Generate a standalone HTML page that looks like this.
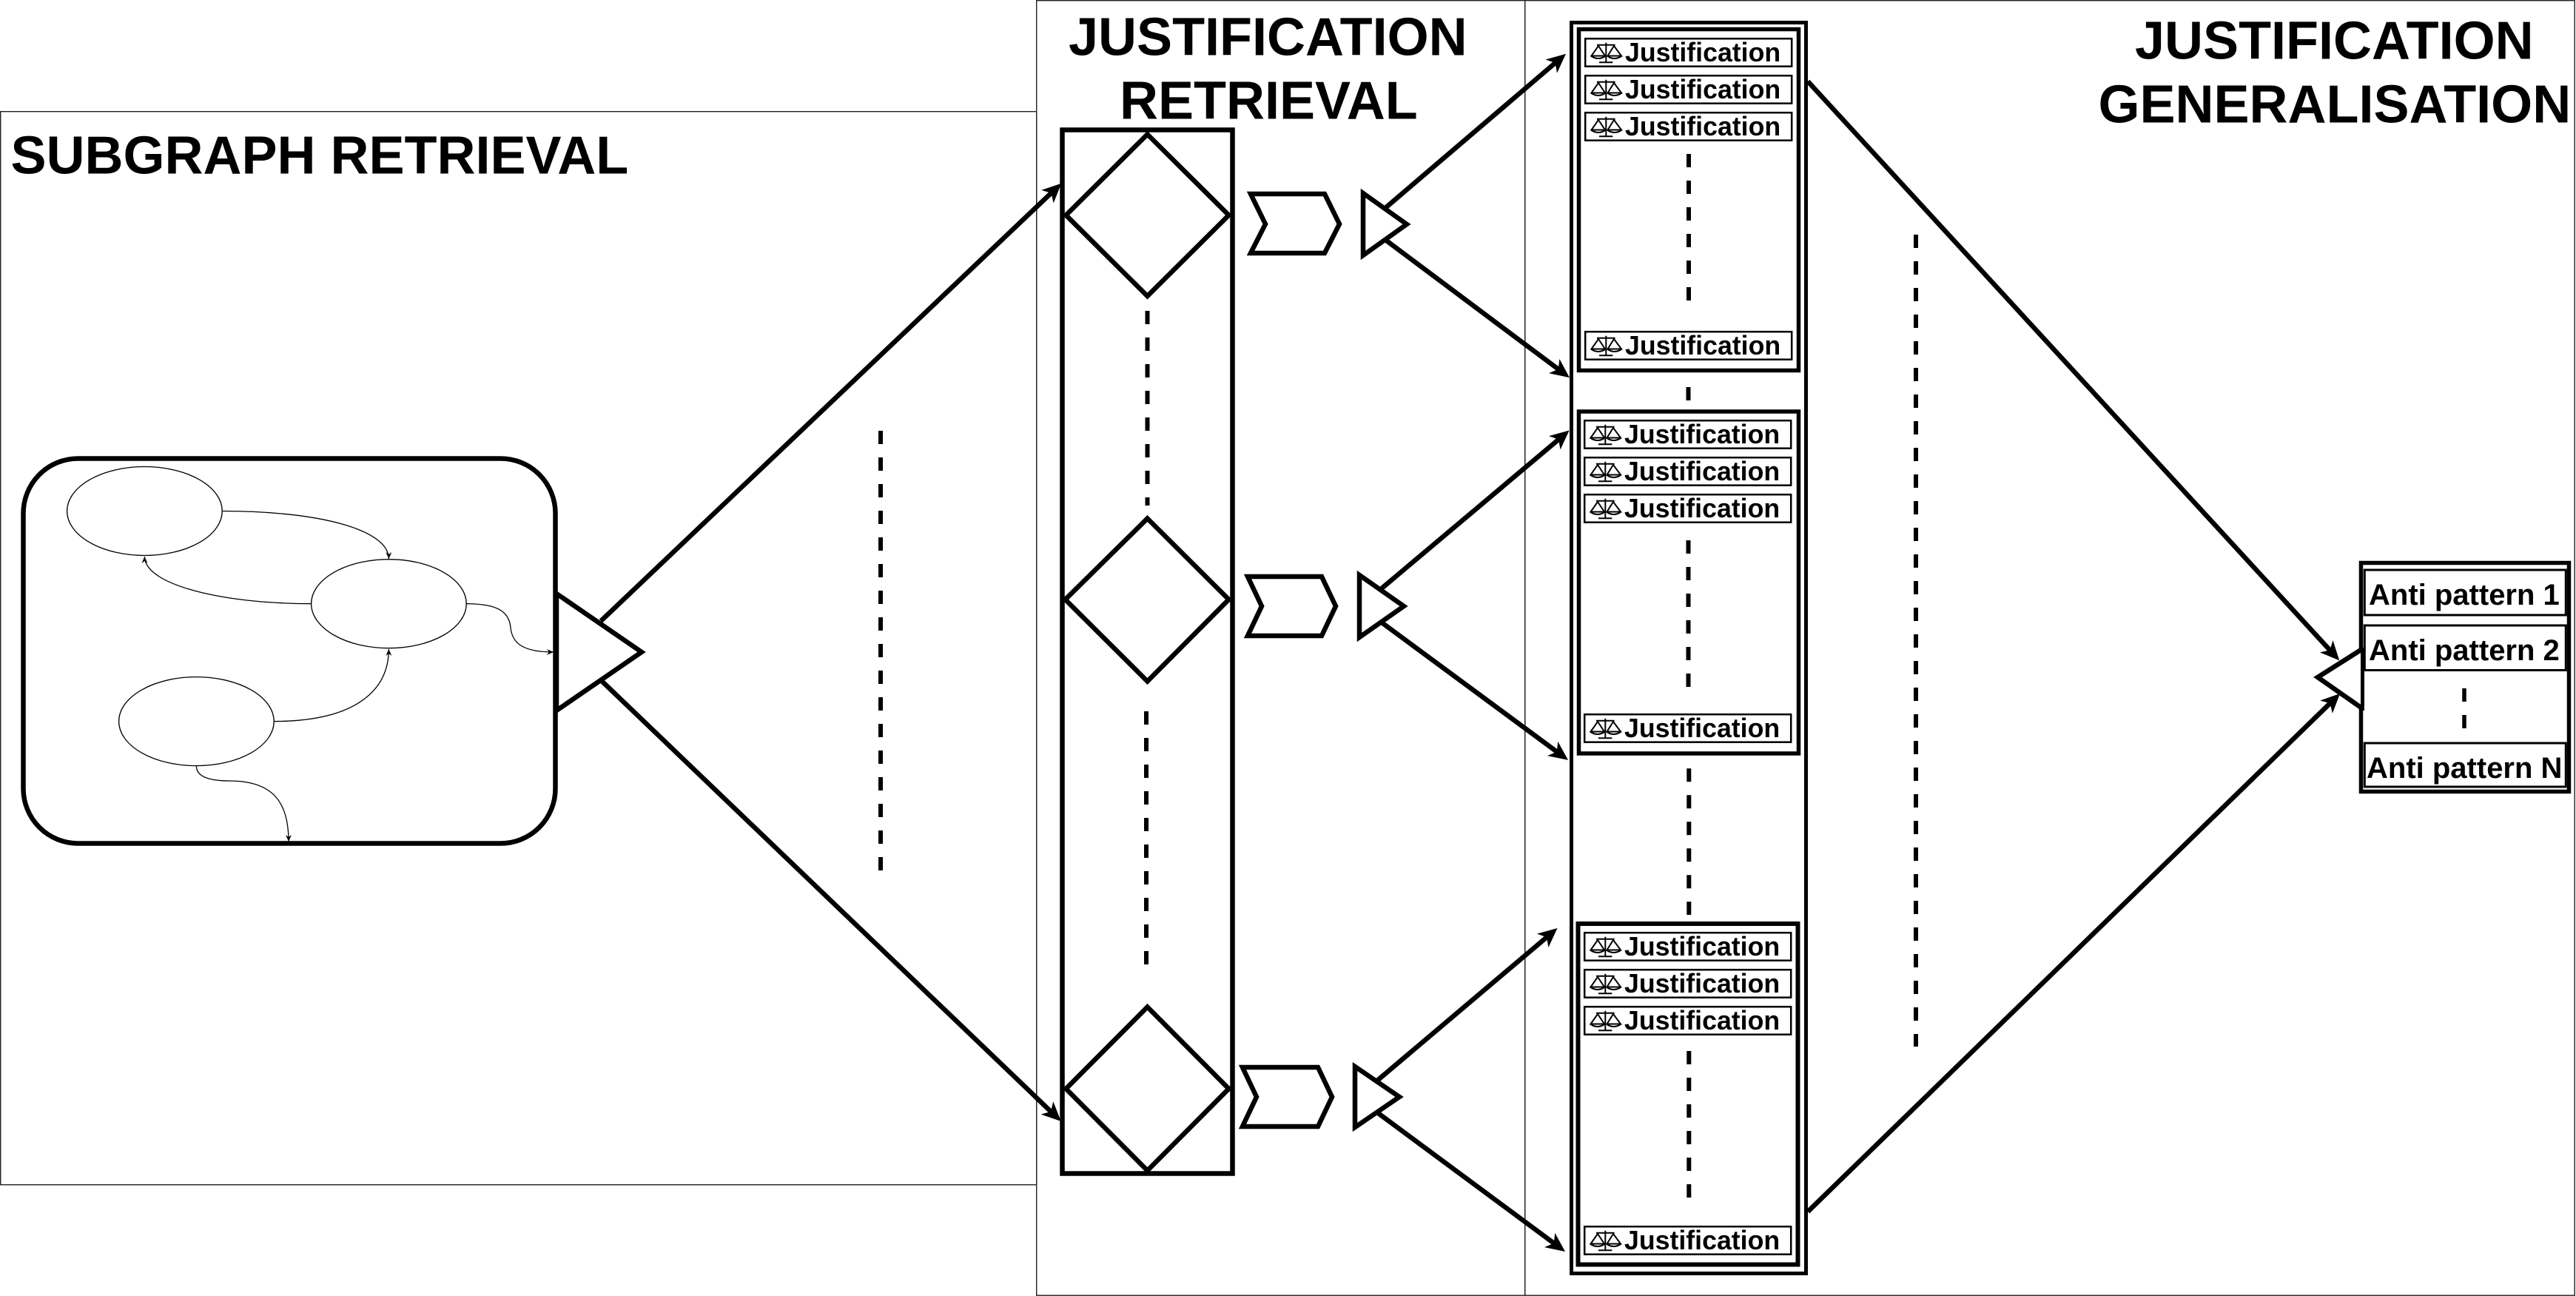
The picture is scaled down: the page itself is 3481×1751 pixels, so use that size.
<!DOCTYPE html>
<html><head><meta charset="utf-8"><style>
html,body{margin:0;padding:0;background:#fff;width:3481px;height:1751px;overflow:hidden}
svg{display:block;font-family:"Liberation Sans",Arial,sans-serif;font-weight:bold}
.t{font-size:72px}.j{font-size:35.7px}.a{font-size:40px}
.s{fill:#fff;stroke:#000;stroke-width:6.5;stroke-linejoin:miter}
.l{stroke:#000;stroke-width:6.5;fill:none}
.d{stroke:#000;stroke-width:6;stroke-dasharray:18 18;fill:none}
.g{stroke:#000;stroke-width:1.3;fill:none}
.i{fill:#fff;stroke:#000;stroke-width:2.5}
.c{fill:none;stroke:#000;stroke-width:2}
</style></head><body>
<svg width="3481" height="1751" viewBox="0 0 3481 1751" xmlns="http://www.w3.org/2000/svg">
<defs>
<marker id="m" markerUnits="userSpaceOnUse" viewBox="-18 -13 30 26" refX="0" refY="0" markerWidth="30" markerHeight="26" orient="auto"><path d="M10,0L-16,-12L-9,0L-16,12Z" fill="#000"/></marker>
<marker id="n" markerUnits="userSpaceOnUse" viewBox="-10 -5 11 10" refX="0" refY="0" markerWidth="11" markerHeight="10" orient="auto"><path d="M0,0L-9,-4L-6,0L-9,4Z" fill="#000"/></marker>
</defs>
<rect width="3481" height="1751" fill="#fff"/>

<!-- panels -->
<g fill="none" stroke="#222" stroke-width="1.4">
<rect x="0.7" y="150.7" width="1400" height="1450"/>
<rect x="1400.7" y="0.7" width="660" height="1749.5"/>
<rect x="2060.7" y="0.7" width="1418.5" height="1749.5"/>
</g>

<text class="t" x="14.5" y="234.5">SUBGRAPH RETRIEVAL</text>
<text class="t" x="1444" y="74.5">JUSTIFICATION</text>
<text class="t" x="1513" y="160.5">RETRIEVAL</text>
<text class="t" x="2885" y="79.5">JUSTIFICATION</text>
<text class="t" x="2835.5" y="165.5">GENERALISATION</text>

<!-- subgraph -->
<path class="s" d="M752,802L867,881L752,960Z"/>
<rect class="s" x="31.5" y="619.5" width="719" height="520" rx="74" ry="74"/>
<g class="g" fill="#fff">
<ellipse cx="195.4" cy="690.5" rx="104.8" ry="60"/>
<ellipse cx="525.4" cy="815.7" rx="104.8" ry="60"/>
<ellipse cx="265.4" cy="974.6" rx="104.8" ry="60"/>
</g>
<g class="g">
<path d="M300,690.5C430,690.5 525,715 525.4,755" marker-end="url(#n)"/>
<path d="M421,815.7C300,815.7 195.4,790 195.4,752" marker-end="url(#n)"/>
<path d="M630,815.7C670,815.7 688,825 690,848C692,868 705,881 748,881" marker-end="url(#n)"/>
<path d="M370,974.6C470,974.6 525,940 525.4,877" marker-end="url(#n)"/>
<path d="M265.4,1035C265.4,1050 285,1055 310,1055C370,1055 390,1085 390,1137" marker-end="url(#n)"/>
</g>

<!-- main connectors -->
<g class="l">
<line x1="812" y1="839" x2="1427" y2="254.6" marker-end="url(#m)"/>
<line x1="812" y1="919" x2="1426.5" y2="1508" marker-end="url(#m)"/>
<line x1="1872" y1="281" x2="2108.4" y2="79.2" marker-end="url(#m)"/>
<line x1="1872" y1="324" x2="2113" y2="504.2" marker-end="url(#m)"/>
<line x1="1867" y1="795" x2="2113" y2="588" marker-end="url(#m)"/>
<line x1="1867" y1="841" x2="2111" y2="1021" marker-end="url(#m)"/>
<line x1="1861" y1="1460" x2="2096.9" y2="1260.5" marker-end="url(#m)"/>
<line x1="1861" y1="1503" x2="2107" y2="1685" marker-end="url(#m)"/>
<line x1="2443" y1="110" x2="3154.5" y2="885" marker-end="url(#m)"/>
<line x1="2443" y1="1637" x2="3155" y2="944" marker-end="url(#m)"/>
</g>

<line class="d" x1="1190" y1="582" x2="1190" y2="1177"/>
<line class="d" x1="2589" y1="317" x2="2589" y2="1414"/>

<!-- retrieval column -->
<rect class="s" x="1435.5" y="175.5" width="230" height="1410"/>
<path class="s" d="M1550.5,181.5L1660.5,290.7L1550.5,400L1440.5,290.7Z"/>
<path class="s" d="M1550.5,700.5L1660.5,810L1550.5,920.5L1439.5,810Z"/>
<path class="s" d="M1550.5,1360.5L1660.5,1471L1550.5,1581.5L1440.5,1471Z"/>
<line class="d" x1="1550.5" y1="420" x2="1550.5" y2="683"/>
<line class="d" x1="1549" y1="961" x2="1549" y2="1303"/>

<!-- chevrons and triangles -->
<path class="s" d="M1690,262H1790L1810,302.7L1790,342H1690L1710,302.7Z"/>
<path class="s" d="M1842,261V345L1901,303Z"/>
<path class="s" d="M1686,779H1786L1805,819L1786,859H1686L1705,819Z"/>
<path class="s" d="M1837,777V861L1897,819Z"/>
<path class="s" d="M1679,1442H1781L1800,1482L1781,1522H1679L1698,1482Z"/>
<path class="s" d="M1831,1441V1523L1891,1482Z"/>

<!-- justification stacks -->
<rect class="s" style="stroke-width:5" x="2123.5" y="30.5" width="317" height="1690"/>
<rect class="s" style="stroke-width:5.5" x="2133.5" y="39.5" width="297" height="461"/>
<rect class="s" style="stroke-width:5.5" x="2133.5" y="556" width="297" height="462"/>
<rect class="s" style="stroke-width:6" x="2132.5" y="1248" width="297" height="460.5"/>

<line class="d" x1="2282" y1="208" x2="2282" y2="410"/>
<line class="d" x1="2281.5" y1="523" x2="2281.5" y2="542"/>
<line class="d" x1="2281.5" y1="730" x2="2281.5" y2="930"/>
<line class="d" x1="2282.3" y1="1038.3" x2="2282.3" y2="1236"/>
<line class="d" x1="2282.3" y1="1420" x2="2282.3" y2="1618"/>

<g transform="translate(2141,51)"><rect class="i" x="1.2" y="1.2" width="279" height="37.5"/><path class="c" d="M29.3 6.7V33.3M20 33.3H38.3M17 9.7H41.6M19 11L9.5 24.5H28ZM40 11L31.5 24.5H50ZM9.5 25Q19 31 28 25M31.5 25Q40.5 31 50 25"/><text class="j" x="55" y="32">Justification</text></g>
<g transform="translate(2141,101)"><rect class="i" x="1.2" y="1.2" width="279" height="37.5"/><path class="c" d="M29.3 6.7V33.3M20 33.3H38.3M17 9.7H41.6M19 11L9.5 24.5H28ZM40 11L31.5 24.5H50ZM9.5 25Q19 31 28 25M31.5 25Q40.5 31 50 25"/><text class="j" x="55" y="32">Justification</text></g>
<g transform="translate(2141,151)"><rect class="i" x="1.2" y="1.2" width="279" height="37.5"/><path class="c" d="M29.3 6.7V33.3M20 33.3H38.3M17 9.7H41.6M19 11L9.5 24.5H28ZM40 11L31.5 24.5H50ZM9.5 25Q19 31 28 25M31.5 25Q40.5 31 50 25"/><text class="j" x="55" y="32">Justification</text></g>
<g transform="translate(2141,447)"><rect class="i" x="1.2" y="1.2" width="279" height="37.5"/><path class="c" d="M29.3 6.7V33.3M20 33.3H38.3M17 9.7H41.6M19 11L9.5 24.5H28ZM40 11L31.5 24.5H50ZM9.5 25Q19 31 28 25M31.5 25Q40.5 31 50 25"/><text class="j" x="55" y="32">Justification</text></g>

<g transform="translate(2140,567)"><rect class="i" x="1.2" y="1.2" width="279" height="37.5"/><path class="c" d="M29.3 6.7V33.3M20 33.3H38.3M17 9.7H41.6M19 11L9.5 24.5H28ZM40 11L31.5 24.5H50ZM9.5 25Q19 31 28 25M31.5 25Q40.5 31 50 25"/><text class="j" x="55" y="32">Justification</text></g>
<g transform="translate(2140,617)"><rect class="i" x="1.2" y="1.2" width="279" height="37.5"/><path class="c" d="M29.3 6.7V33.3M20 33.3H38.3M17 9.7H41.6M19 11L9.5 24.5H28ZM40 11L31.5 24.5H50ZM9.5 25Q19 31 28 25M31.5 25Q40.5 31 50 25"/><text class="j" x="55" y="32">Justification</text></g>
<g transform="translate(2140,667)"><rect class="i" x="1.2" y="1.2" width="279" height="37.5"/><path class="c" d="M29.3 6.7V33.3M20 33.3H38.3M17 9.7H41.6M19 11L9.5 24.5H28ZM40 11L31.5 24.5H50ZM9.5 25Q19 31 28 25M31.5 25Q40.5 31 50 25"/><text class="j" x="55" y="32">Justification</text></g>
<g transform="translate(2140,964)"><rect class="i" x="1.2" y="1.2" width="279" height="37.5"/><path class="c" d="M29.3 6.7V33.3M20 33.3H38.3M17 9.7H41.6M19 11L9.5 24.5H28ZM40 11L31.5 24.5H50ZM9.5 25Q19 31 28 25M31.5 25Q40.5 31 50 25"/><text class="j" x="55" y="32">Justification</text></g>

<g transform="translate(2140,1259)"><rect class="i" x="1.2" y="1.2" width="279" height="37.5"/><path class="c" d="M29.3 6.7V33.3M20 33.3H38.3M17 9.7H41.6M19 11L9.5 24.5H28ZM40 11L31.5 24.5H50ZM9.5 25Q19 31 28 25M31.5 25Q40.5 31 50 25"/><text class="j" x="55" y="32">Justification</text></g>
<g transform="translate(2140,1309)"><rect class="i" x="1.2" y="1.2" width="279" height="37.5"/><path class="c" d="M29.3 6.7V33.3M20 33.3H38.3M17 9.7H41.6M19 11L9.5 24.5H28ZM40 11L31.5 24.5H50ZM9.5 25Q19 31 28 25M31.5 25Q40.5 31 50 25"/><text class="j" x="55" y="32">Justification</text></g>
<g transform="translate(2140,1359)"><rect class="i" x="1.2" y="1.2" width="279" height="37.5"/><path class="c" d="M29.3 6.7V33.3M20 33.3H38.3M17 9.7H41.6M19 11L9.5 24.5H28ZM40 11L31.5 24.5H50ZM9.5 25Q19 31 28 25M31.5 25Q40.5 31 50 25"/><text class="j" x="55" y="32">Justification</text></g>
<g transform="translate(2140,1656)"><rect class="i" x="1.2" y="1.2" width="279" height="37.5"/><path class="c" d="M29.3 6.7V33.3M20 33.3H38.3M17 9.7H41.6M19 11L9.5 24.5H28ZM40 11L31.5 24.5H50ZM9.5 25Q19 31 28 25M31.5 25Q40.5 31 50 25"/><text class="j" x="55" y="32">Justification</text></g>

<!-- anti patterns -->
<rect class="s" style="stroke-width:5.5" x="3190.5" y="760.5" width="281" height="309"/>
<rect class="i" x="3195.3" y="770" width="272" height="61" style="stroke-width:3"/>
<rect class="i" x="3195.3" y="845" width="272" height="60.5" style="stroke-width:3"/>
<rect class="i" x="3195.3" y="1004" width="272" height="59" style="stroke-width:3"/>
<text class="a" x="3201" y="817">Anti pattern 1</text>
<text class="a" x="3201" y="892">Anti pattern 2</text>
<text class="a" x="3198" y="1051">Anti pattern N</text>
<line class="d" style="stroke-width:5.5" x1="3330" y1="930" x2="3330" y2="984"/>
<path d="M3192,877L3132,915L3192,957" fill="#fff" stroke="#000" stroke-width="6.5"/>
<line x1="3192.5" y1="875" x2="3192.5" y2="960" stroke="#000" stroke-width="5"/>
</svg>
</body></html>
